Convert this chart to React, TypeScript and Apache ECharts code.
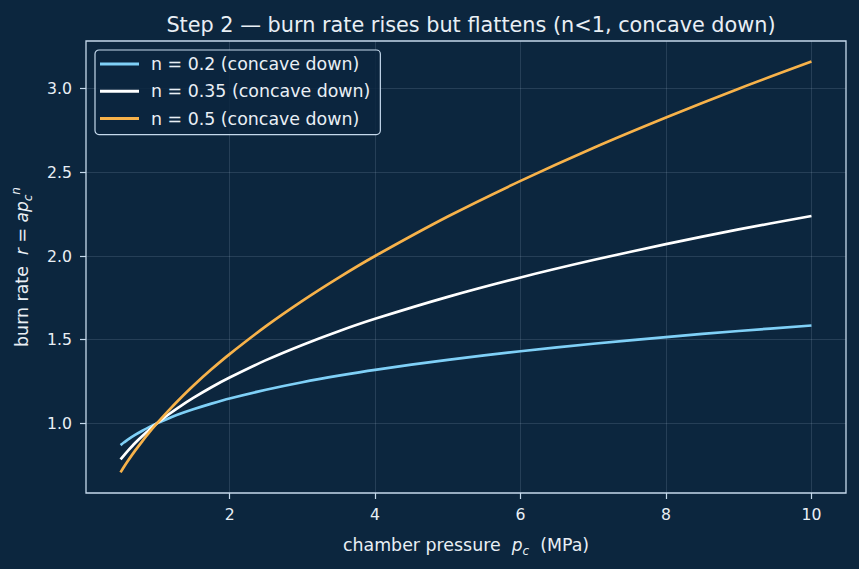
import React, { useEffect, useRef } from "react";
import * as echarts from "echarts";

const PRESSURE = [0.5, 0.55, 0.6, 0.7, 0.8, 0.9, 1, 1.15, 1.3, 1.5, 1.75, 2, 2.5, 3, 3.5, 4, 5, 6, 7, 8, 9, 10];
const RATE_N02 = [0.87, 0.887, 0.903, 0.931, 0.956, 0.979, 1.0, 1.028, 1.054, 1.084, 1.118, 1.149, 1.201, 1.246, 1.285, 1.32, 1.38, 1.431, 1.476, 1.516, 1.552, 1.585];
const RATE_N035 = [0.785, 0.811, 0.836, 0.883, 0.925, 0.964, 1.0, 1.05, 1.096, 1.152, 1.216, 1.274, 1.378, 1.469, 1.551, 1.625, 1.756, 1.872, 1.976, 2.071, 2.159, 2.239];
const RATE_N05 = [0.707, 0.742, 0.775, 0.837, 0.894, 0.949, 1.0, 1.072, 1.14, 1.225, 1.323, 1.414, 1.581, 1.732, 1.871, 2.0, 2.236, 2.449, 2.646, 2.828, 3.0, 3.162];
const SERIES_NAMES = ["n = 0.2 (concave down)", "n = 0.35 (concave down)", "n = 0.5 (concave down)"];
const SERIES_COLORS = ["#7fd0f7", "#ffffff", "#f7b24a"];
const X_TICKS = [2, 4, 6, 8, 10];
const Y_TICKS = [1.0, 1.5, 2.0, 2.5, 3.0];

const BG = "#0c263e";
const FG = "#e9eff5";
const SPINE = "#c5d9ec";
const FONT = "DejaVu Sans";

export default function App() {
  const ref = useRef<HTMLDivElement>(null);
  useEffect(() => {
    document.body.style.margin = "0";
    const chart = echarts.init(ref.current!, undefined, { renderer: "svg" });
    const rich = {
      i: { fontStyle: "italic", fontFamily: FONT, fontSize: 17, color: FG, lineHeight: 24 },
      n: { fontFamily: FONT, fontSize: 17, color: FG, lineHeight: 24 },
      sub: { fontStyle: "italic", fontFamily: FONT, fontSize: 12, color: FG, verticalAlign: "bottom", lineHeight: 24 },
      sup: { fontStyle: "italic", fontFamily: FONT, fontSize: 12, color: FG, verticalAlign: "top", lineHeight: 24 },
    };
    const mk = (name: string, data: number[], color: string) => ({
      name,
      type: "line",
      data: PRESSURE.map((p, k) => [p, data[k]]),
      showSymbol: false,
      symbol: "none",
      smooth: 0.3,
      lineStyle: { color, width: 2.7 },
      itemStyle: { color },
    });
    chart.setOption({
      animation: false,
      backgroundColor: BG,
      textStyle: { fontFamily: FONT },
      title: {
        text: "Step 2 — burn rate rises but flattens (n<1, concave down)",
        left: 466,
        textAlign: "center",
        top: 9,
        textStyle: { color: FG, fontSize: 20.8, fontWeight: "normal", fontFamily: FONT },
      },
      grid: {
        left: 86,
        right: 13,
        top: 41,
        bottom: 76,
        outerBoundsMode: "none",
        containLabel: false,
        show: true,
        backgroundColor: BG,
        borderColor: SPINE,
        borderWidth: 1.3,
      },
      legend: {
        orient: "vertical",
        left: 95,
        top: 50,
        padding: [4, 10, 6, 5],
        itemGap: 7.3,
        itemWidth: 39,
        itemHeight: 3,
        icon: "rect",
        backgroundColor: "rgba(12,38,62,0.85)",
        borderColor: SPINE,
        borderWidth: 1.2,
        borderRadius: 4,
        textStyle: { color: FG, fontSize: 17.4, fontFamily: FONT, lineHeight: 20, padding: [0, 0, 0, 7] },
        data: SERIES_NAMES,
      },
      xAxis: {
        type: "value",
        min: 0.025,
        max: 10.475,
        name: "chamber pressure  {i|p}{sub|c}  (MPa)",
        nameLocation: "middle",
        nameGap: 40,
        nameTextStyle: { color: FG, fontSize: 17.4, fontFamily: FONT, rich },
        axisLine: { show: false },
        axisTick: { show: true, customValues: X_TICKS, length: 6, lineStyle: { color: SPINE, width: 1.2 } },
        axisLabel: { customValues: X_TICKS, color: FG, fontSize: 15.7, fontFamily: FONT, margin: 13 },
        splitLine: { show: true, customValues: X_TICKS, lineStyle: { color: "rgba(200,220,240,0.16)", width: 0.9 } },
      },
      yAxis: {
        type: "value",
        min: 0.584,
        max: 3.285,
        name: "burn rate  {i|r} = {i|a}{i|p}{sub|c}{sup|n}",
        nameLocation: "middle",
        nameRotate: 90,
        nameGap: 52,
        nameTextStyle: { color: FG, fontSize: 17.4, fontFamily: FONT, rich },
        axisLine: { show: false },
        axisTick: { show: true, customValues: Y_TICKS, length: 6, lineStyle: { color: SPINE, width: 1.2 } },
        axisLabel: {
          customValues: Y_TICKS,
          color: FG,
          fontSize: 15.7,
          fontFamily: FONT,
          margin: 14,
          formatter: (v: number) => v.toFixed(1),
        },
        splitLine: { show: true, customValues: Y_TICKS, lineStyle: { color: "rgba(200,220,240,0.16)", width: 0.9 } },
      },
      series: [
        mk(SERIES_NAMES[0], RATE_N02, SERIES_COLORS[0]),
        mk(SERIES_NAMES[1], RATE_N035, SERIES_COLORS[1]),
        mk(SERIES_NAMES[2], RATE_N05, SERIES_COLORS[2]),
      ],
    });
    return () => chart.dispose();
  }, []);
  return <div ref={ref} style={{ width: 859, height: 569 }} />;
}
